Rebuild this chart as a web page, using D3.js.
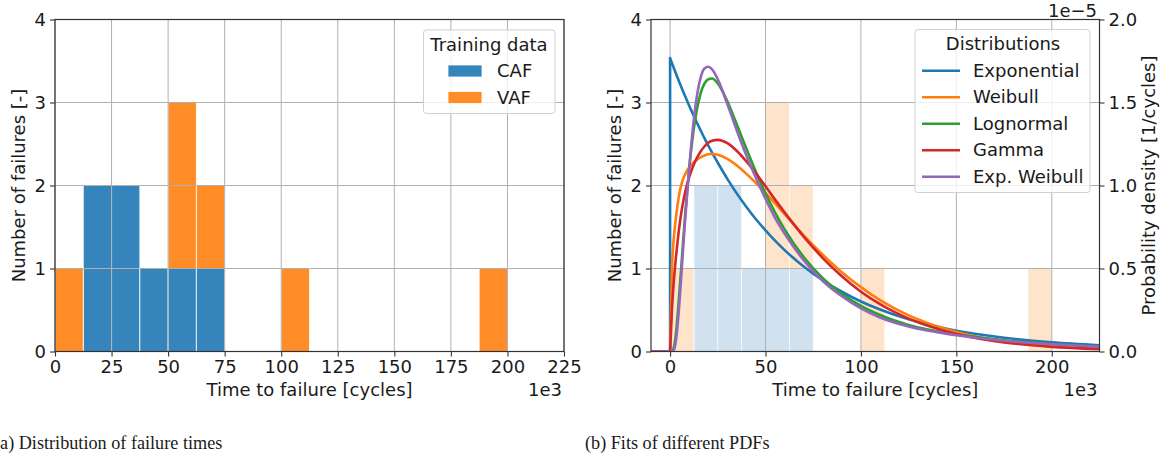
<!DOCTYPE html>
<html><head><meta charset="utf-8">
<script src="https://cdn.jsdelivr.net/npm/d3@7"></script>
<style>
body{margin:0;background:#fff}
svg{display:block}
text{font-family:"DejaVu Sans",sans-serif;fill:#1a1a1a}
.cap{font-family:"Liberation Serif","DejaVu Serif",serif}
</style>
</head><body>
<svg id="c" width="1170" height="457"></svg>
<script>
// ---------- data ----------
const binEdges = [0,12.5,25,37.5,50,62.5,75,87.5,100,112.5,125,137.5,150,162.5,175,187.5,200];
const cafCounts = [0,2,2,1,1,1,0,0,0,0,0,0,0,0,0,0];
const vafCounts = [1,0,0,0,2,1,0,0,1,0,0,0,0,0,0,1];
const histSeries = ["CAF","VAF"];

const xTicksA = [0,25,50,75,100,125,150,175,200,225];
const xTicksB = [0,50,100,150,200];
const yTicks = [0,1,2,3,4];
const yTicksR = [0,0.5,1.0,1.5,2.0];

// PDF sample positions (1e3 cycles) and densities (1e-5 1/cycles)
const pdfX = [-10,0,1,2,3,4,5,6,7,8,10,12,14,16,18,20,22,25,30,35,40,45,50,55,60,70,80,90,100,110,125,150,175,200,225];
const expPdf = [0,1.768,1.737,1.706,1.676,1.647,1.618,1.590,1.562,1.534,1.481,1.430,1.380,1.332,1.285,1.241,1.198,1.137,1.040,0.951,0.871,0.797,0.730,0.668,0.611,0.512,0.429,0.360,0.301,0.253,0.194,0.125,0.083,0.055,0.038];
const weibullPdf = [0,0,0.5,0.69,0.8,0.89,0.96,1.01,1.045,1.07,1.11,1.135,1.155,1.17,1.18,1.188,1.19,1.185,1.16,1.12,1.07,1.015,0.955,0.893,0.828,0.70,0.583,0.478,0.388,0.31,0.218,0.118,0.06,0.03,0.015];
const lognormPdf = [0,0,0.0015,0.025,0.1,0.225,0.375,0.53,0.69,0.84,1.1,1.305,1.455,1.555,1.613,1.64,1.645,1.615,1.507,1.367,1.221,1.081,0.953,0.837,0.736,0.569,0.442,0.348,0.275,0.22,0.16,0.103,0.068,0.045,0.03];
const gammaPdf = [0,0,0.26,0.43,0.56,0.67,0.765,0.845,0.91,0.965,1.05,1.115,1.165,1.205,1.235,1.258,1.27,1.275,1.255,1.208,1.145,1.073,0.995,0.915,0.838,0.692,0.563,0.453,0.36,0.285,0.198,0.106,0.055,0.028,0.015];
const expWeibullPdf = [0,0,0,0.01,0.06,0.165,0.31,0.475,0.65,0.81,1.1,1.35,1.535,1.65,1.705,1.715,1.70,1.64,1.49,1.33,1.18,1.045,0.92,0.805,0.71,0.55,0.425,0.333,0.26,0.205,0.15,0.098,0.065,0.044,0.03];
const distNames = ["Exponential","Weibull","Lognormal","Gamma","Exp. Weibull"];

// ---------- style ----------
const C = {blue:"#1f77b4",orange:"#ff7f0e",green:"#2ca02c",red:"#d62728",purple:"#9467bd"};
const FS = 18;
const LW = 2.6;
const svg = d3.select("#c");
const T = 19.5, B = 351.5;

function histData(){
  return binEdges.slice(0,-1).map((x0,i)=>({x0, x1:binEdges[i+1], CAF:cafCounts[i], VAF:vafCounts[i]}));
}
const stacked = d3.stack().keys(histSeries)(histData());

function drawPanel(g, x, y, xTicks, opts){
  const cols = [C.blue, C.orange];
  stacked.forEach((layer,li)=>{
    g.append("g").selectAll("rect").data(layer.filter(d=>d[1]-d[0]>0)).join("rect")
      .attr("x",d=>x(d.data.x0)).attr("width",d=>x(d.data.x1)-x(d.data.x0))
      .attr("y",d=>y(d[1])).attr("height",d=>y(d[0])-y(d[1]))
      .attr("fill",cols[li]).attr("fill-opacity",opts.alpha)
      .attr("stroke","#fff").attr("stroke-width",opts.alpha>0.5?1:0.8).attr("stroke-opacity",0.8);
  });
  const [x0,x1] = x.range();
  g.append("g").selectAll("line").data(xTicks).join("line")
    .attr("x1",d=>x(d)).attr("x2",d=>x(d)).attr("y1",T).attr("y2",B)
    .attr("stroke","#b0b0b0").attr("stroke-width",1);
  g.append("g").selectAll("line").data(yTicks).join("line")
    .attr("x1",x0).attr("x2",x1).attr("y1",d=>y(d)).attr("y2",d=>y(d))
    .attr("stroke","#b0b0b0").attr("stroke-width",1);
}

function axes(g, x, y, xTicks, cx, ylabX){
  const [x0,x1] = x.range();
  const xa = g.append("g").attr("transform",`translate(0,${B})`)
    .call(d3.axisBottom(x).tickValues(xTicks).tickSize(5).tickPadding(4).tickFormat(d3.format("d")));
  const ya = g.append("g").attr("transform",`translate(${x0},0)`)
    .call(d3.axisLeft(y).tickValues(yTicks).tickSize(5).tickPadding(4).tickFormat(d3.format("d")));
  [xa,ya].forEach(a=>{
    a.select(".domain").remove();
    a.selectAll(".tick line").attr("stroke","#333").attr("stroke-width",1.1);
    a.selectAll(".tick text").attr("font-size",FS).attr("font-family","DejaVu Sans").attr("fill","#1a1a1a");
  });
  g.append("rect").attr("x",x0).attr("y",T).attr("width",x1-x0).attr("height",B-T)
    .attr("fill","none").attr("stroke","#333").attr("stroke-width",1.2);
  g.append("text").attr("x",cx).attr("y",396).attr("text-anchor","middle").attr("font-size",FS)
    .text("Time to failure [cycles]");
  g.append("text").attr("x",x1-2).attr("y",396).attr("text-anchor","end").attr("font-size",FS).text("1e3");
  g.append("text").attr("transform",`translate(${ylabX},${(T+B)/2}) rotate(-90)`)
    .attr("text-anchor","middle").attr("font-size",FS).text("Number of failures [-]");
}

// ---------- panel (a) ----------
const xA = d3.scaleLinear().domain([0,225]).range([55,564]);
const yA = d3.scaleLinear().domain([0,4]).range([B,T]);
const gA = svg.append("g");
drawPanel(gA, xA, yA, xTicksA, {alpha:0.9});
axes(gA, xA, yA, xTicksA, (55+564)/2, 25);

const lA = gA.append("g");
lA.append("rect").attr("x",423.5).attr("y",30).attr("width",131.5).attr("height",83.5).attr("rx",3)
  .attr("fill","#fff").attr("fill-opacity",0.8).attr("stroke","#d0d0d0").attr("stroke-width",1);
lA.append("text").attr("x",489).attr("y",51).attr("text-anchor","middle").attr("font-size",FS).text("Training data");
histSeries.forEach((s,i)=>{
  lA.append("rect").attr("x",448).attr("y",65+i*26.5).attr("width",34).attr("height",12)
    .attr("fill",[C.blue,C.orange][i]).attr("fill-opacity",0.9).attr("stroke","#fff").attr("stroke-opacity",0.8);
  lA.append("text").attr("x",497).attr("y",77+i*26.5).attr("font-size",FS).text(s);
});

// ---------- panel (b) ----------
const xB = d3.scaleLinear().domain([-10,225]).range([651,1099.5]);
const yB = d3.scaleLinear().domain([0,4]).range([B,T]);
const yR = d3.scaleLinear().domain([0,2]).range([B,T]);
const gB = svg.append("g");
drawPanel(gB, xB, yB, xTicksB, {alpha:0.21});

svg.append("clipPath").attr("id","clipB").append("rect").attr("x",651).attr("y",T).attr("width",448.5).attr("height",B-T);
const lin = d3.line().x(d=>xB(d[0])).y(d=>yR(d[1]));
const mono = d3.line().curve(d3.curveMonotoneX).x(d=>xB(d[0])).y(d=>yR(d[1]));
const series = [expPdf, weibullPdf, lognormPdf, gammaPdf, expWeibullPdf];
const sCols = [C.blue, C.orange, C.green, C.red, C.purple];
const gC = gB.append("g").attr("clip-path","url(#clipB)");
series.forEach((vals,si)=>{
  const pts = pdfX.map((xv,i)=>[xv, vals[i]]);
  const i0 = pdfX.indexOf(0);
  const pre = lin([pts[0],[0,pts[0][1]],[0,pts[i0][1]]]);
  const main = mono(pts.slice(i0)).replace(/^M/,"L");
  gC.append("path").attr("d", pre + main).attr("fill","none").attr("stroke",sCols[si])
    .attr("stroke-width",LW).attr("stroke-linejoin","round");
});

axes(gB, xB, yB, xTicksB, (651+1099.5)/2, 621);
const ra = gB.append("g").attr("transform","translate(1099.5,0)")
  .call(d3.axisRight(yR).tickValues(yTicksR).tickSize(5).tickPadding(4).tickFormat(d3.format(".1f")));
ra.select(".domain").remove();
ra.selectAll(".tick line").attr("stroke","#333").attr("stroke-width",1.1);
ra.selectAll(".tick text").attr("font-size",FS).attr("font-family","DejaVu Sans").attr("fill","#1a1a1a");
gB.append("text").attr("x",1097).attr("y",16.5).attr("text-anchor","end").attr("font-size",FS).text("1e\u22125");
gB.append("text").attr("transform",`translate(1155,${(T+B)/2}) rotate(-90)`)
  .attr("text-anchor","middle").attr("font-size",FS).text("Probability density [1/cycles]");

const lB = gB.append("g");
lB.append("rect").attr("x",915).attr("y",29.5).attr("width",175).attr("height",163).attr("rx",3)
  .attr("fill","#fff").attr("fill-opacity",0.8).attr("stroke","#d0d0d0").attr("stroke-width",1);
lB.append("text").attr("x",1003).attr("y",50).attr("text-anchor","middle").attr("font-size",FS).text("Distributions");
distNames.forEach((n,i)=>{
  const yy = 70.7 + i*26.5;
  lB.append("line").attr("x1",922).attr("x2",960).attr("y1",yy).attr("y2",yy).attr("stroke",sCols[i]).attr("stroke-width",LW);
  lB.append("text").attr("x",973).attr("y",yy+6).attr("font-size",FS).text(n);
});

svg.append("text").attr("class","cap").attr("x",-6).attr("y",449).attr("font-size",18.2).text("(a) Distribution of failure times");
svg.append("text").attr("class","cap").attr("x",585).attr("y",449).attr("font-size",18.2).text("(b) Fits of different PDFs");
</script>
</body></html>
